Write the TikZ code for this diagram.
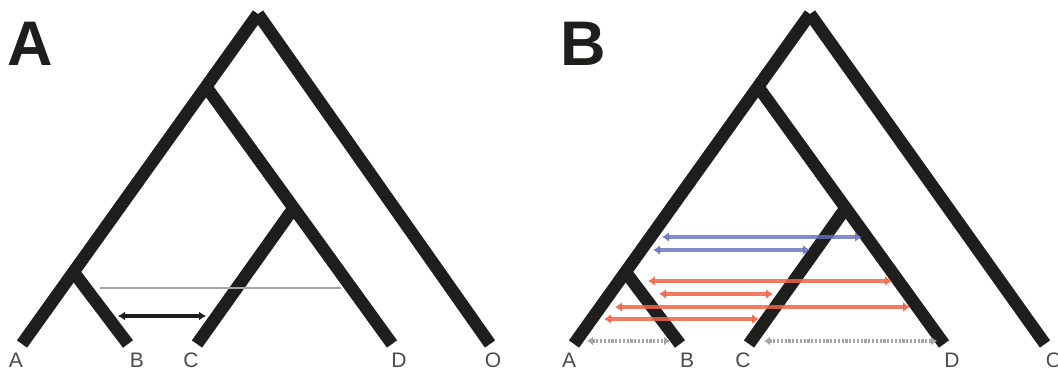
\documentclass[tikz,border=0pt]{standalone}
\usepackage{fontspec}
\setmainfont{Liberation Sans}
\usetikzlibrary{arrows.meta}
\definecolor{treeblack}{RGB}{30,30,28}
\definecolor{hgtblue}{RGB}{100,110,190}
\definecolor{hgtred}{RGB}{240,100,70}
\definecolor{lightgray}{RGB}{165,165,165}
\tikzset{
  branch/.style={draw=treeblack, line width=12.5pt, line cap=butt},
  leaflabel/.style={font=\fontsize{21}{21}\selectfont, text=treeblack!80, inner sep=0pt, anchor=base},
  panellabel/.style={font=\fontsize{63}{63}\selectfont\bfseries, text=treeblack, inner sep=0pt, anchor=base},
  blackarrow/.style={draw=treeblack, line width=3.5pt, {Latex[length=7pt,width=9pt]}-{Latex[length=7pt,width=9pt]}},
  grayline/.style={draw=lightgray, line width=2pt},
  bluearrow/.style={draw=hgtblue, line width=4.2pt, opacity=0.8, {Latex[length=7pt,width=10pt]}-{Latex[length=7pt,width=10pt]}},
  redarrow/.style={draw=hgtred, line width=4.2pt, opacity=0.85, {Latex[length=7pt,width=10pt]}-{Latex[length=7pt,width=10pt]}},
  dotarrow/.style={draw=lightgray, line width=4pt, dash pattern=on 2.2pt off 1.6pt, {Latex[length=6pt,width=9pt,fill=lightgray]}-{Latex[length=6pt,width=9pt,fill=lightgray]}}
}
\begin{document}
\begin{tikzpicture}[x=1pt,y=-1pt]
\useasboundingbox (0,0) rectangle (1058,373);
\clip (0,0) rectangle (1058,373);
% ---------- Panel A ----------
\coordinate (aR) at (258,14);
\coordinate (a2) at (207,88);
\coordinate (a3) at (293.7,208);
\coordinate (a4) at (73.5,272);
\coordinate (aA) at (22,344);
\coordinate (aB) at (128,344);
\coordinate (aC) at (197,344);
\coordinate (aD) at (392,344);
\coordinate (aO) at (490,344);
\draw[branch] (aR) -- (aA);
\draw[branch] (aR) -- (aO);
\draw[branch] (a2) -- (aD);
\draw[branch] (a3) -- (aC);
\draw[branch] (a4) -- (aB);
\node[panellabel] (pA) at (30,65) {A};
\node[leaflabel] (lA1) at (16,367) {A};
\node[leaflabel] (lB1) at (137,367) {B};
\node[leaflabel] (lC1) at (191,367) {C};
\node[leaflabel] (lD1) at (399,367) {D};
\node[leaflabel] (lO1) at (493,367) {O};
\coordinate (g1) at (100,288);
\coordinate (g2) at (341,288);
\draw[grayline] (g1) -- (g2);
\coordinate (k1) at (118,316);
\coordinate (k2) at (206,316);
\draw[blackarrow] (k1) -- (k2);
% ---------- Panel B ----------
\begin{scope}[xshift=552pt]
\coordinate (bR) at (258,14);
\coordinate (b2) at (207,88);
\coordinate (b3) at (293.7,208);
\coordinate (b4) at (73.5,272);
\coordinate (bA) at (22,344);
\coordinate (bB) at (128,344);
\coordinate (bC) at (197,344);
\coordinate (bD) at (392,344);
\coordinate (bO) at (493,344);
\draw[branch] (bR) -- (bA);
\draw[branch] (bR) -- (bO);
\draw[branch] (b2) -- (bD);
\draw[branch] (b3) -- (bC);
\draw[branch] (b4) -- (bB);
\node[panellabel] (pB) at (31,65) {B};
\node[leaflabel] (lA2) at (17,367) {A};
\node[leaflabel] (lB2) at (135,367) {B};
\node[leaflabel] (lC2) at (191,367) {C};
\node[leaflabel] (lD2) at (400,367) {D};
\node[leaflabel] (lO2) at (502,367) {O};
\end{scope}
% HGT arrows
\coordinate (u1) at (662,237); \coordinate (u2) at (862,237);
\coordinate (v1) at (653,250); \coordinate (v2) at (810,250);
\coordinate (r1) at (648,281); \coordinate (r2) at (892,281);
\coordinate (s1) at (659,294); \coordinate (s2) at (773,294);
\coordinate (t1) at (615,307); \coordinate (t2) at (910,307);
\coordinate (w1) at (604,319); \coordinate (w2) at (759,319);
\draw[bluearrow] (u1) -- (u2);
\draw[bluearrow] (v1) -- (v2);
\draw[redarrow] (r1) -- (r2);
\draw[redarrow] (s1) -- (s2);
\draw[redarrow] (t1) -- (t2);
\draw[redarrow] (w1) -- (w2);
\coordinate (d1) at (587,341); \coordinate (d2) at (670,341);
\coordinate (e1) at (764,341); \coordinate (e2) at (937,341);
\draw[dotarrow] (d1) -- (d2);
\draw[dotarrow] (e1) -- (e2);
\end{tikzpicture}
\end{document}
